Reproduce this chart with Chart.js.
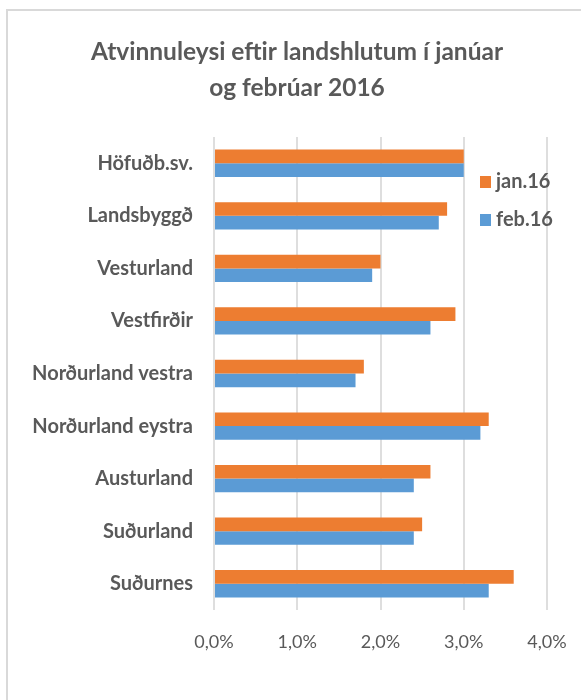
<!DOCTYPE html>
<html>
<head>
<meta charset="utf-8">
<script src="https://cdn.jsdelivr.net/npm/chart.js@4/dist/chart.umd.min.js"></script>
<style>
  html, body { margin: 0; padding: 0; background: #fff; }
  #wrap { position: relative; width: 581px; height: 700px; overflow: hidden; }
  #frame {
    position: absolute; left: 6px; top: 9px; width: 640px; height: 760px;
    border: 2px solid #d9d9d9; box-sizing: border-box;
  }
  #chart { position: absolute; left: 0; top: 0; }
</style>
</head>
<body>
<div id="wrap">
  <div id="frame"></div>
  <canvas id="chart" width="581" height="700"></canvas>
</div>
<script>
const titleLines = ["Atvinnuleysi eftir landshlutum í janúar", "og febrúar 2016"];
const categories = [
  "Höfuðb.sv.",
  "Landsbyggð",
  "Vesturland",
  "Vestfirðir",
  "Norðurland vestra",
  "Norðurland eystra",
  "Austurland",
  "Suðurland",
  "Suðurnes"
];
const seriesNames = ["jan.16", "feb.16"];
const jan16 = [3.0, 2.8, 2.0, 2.9, 1.8, 3.3, 2.6, 2.5, 3.6];
const feb16 = [3.0, 2.7, 1.9, 2.6, 1.7, 3.2, 2.4, 2.4, 3.3];
const xTicks = [0, 1, 2, 3, 4];

const textColor = "#595959";
const fontFamily = "Lato, 'Open Sans', sans-serif";

// legend drawn like Excel, overlaid on the plot's right side
const overlayLegend = {
  id: "overlayLegend",
  afterDraw(chart) {
    const ctx = chart.ctx;
    ctx.save();
    ctx.font = "bold 20px " + fontFamily;
    ctx.textBaseline = "middle";
    ctx.textAlign = "left";
    chart.data.datasets.forEach((ds, i) => {
      const cy = 182 + i * 38;
      ctx.fillStyle = ds.backgroundColor;
      ctx.fillRect(480, cy - 6, 11, 12);
      ctx.fillStyle = textColor;
      ctx.fillText(ds.label, 496, cy);
    });
    ctx.restore();
  }
};

new Chart(document.getElementById("chart"), {
  type: "bar",
  data: {
    labels: categories,
    datasets: [
      {
        label: seriesNames[0],
        data: jan16,
        backgroundColor: "#ED7D31",
        borderWidth: 0,
        categoryPercentage: 0.52,
        barPercentage: 1
      },
      {
        label: seriesNames[1],
        data: feb16,
        backgroundColor: "#5B9BD5",
        borderWidth: 0,
        categoryPercentage: 0.52,
        barPercentage: 1
      }
    ]
  },
  options: {
    indexAxis: "y",
    responsive: false,
    animation: false,
    // left/right chosen so the title centres where Excel put it
    layout: { padding: { left: 20, right: 7, top: 0, bottom: 0 } },
    plugins: {
      legend: { display: false },
      tooltip: { enabled: false },
      title: {
        display: true,
        text: titleLines,
        color: textColor,
        font: { family: fontFamily, size: 24.5, weight: "bold", lineHeight: 36 / 24.5 },
        padding: { top: 34, bottom: 31 }
      }
    },
    scales: {
      x: {
        min: 0,
        max: 4,
        afterBuildTicks(scale) {
          scale.ticks = xTicks.map((v) => ({ value: v }));
        },
        afterFit(scale) {
          scale.height = 90;
          scale.paddingLeft = 0;
          scale.paddingRight = 34;
        },
        grid: { color: "#dedede", lineWidth: 2, drawTicks: false },
        border: { display: false },
        ticks: {
          padding: 21,
          color: textColor,
          font: { family: fontFamily, size: 18 },
          callback: (v) => Number(v).toFixed(1).replace(".", ",") + "%"
        }
      },
      y: {
        afterFit(scale) {
          scale.width = 194;
        },
        grid: { display: false, drawTicks: false },
        border: { display: false },
        ticks: {
          padding: 21,
          color: textColor,
          font: { family: fontFamily, size: 20, weight: "bold" }
        }
      }
    }
  },
  plugins: [overlayLegend]
});
</script>
</body>
</html>
